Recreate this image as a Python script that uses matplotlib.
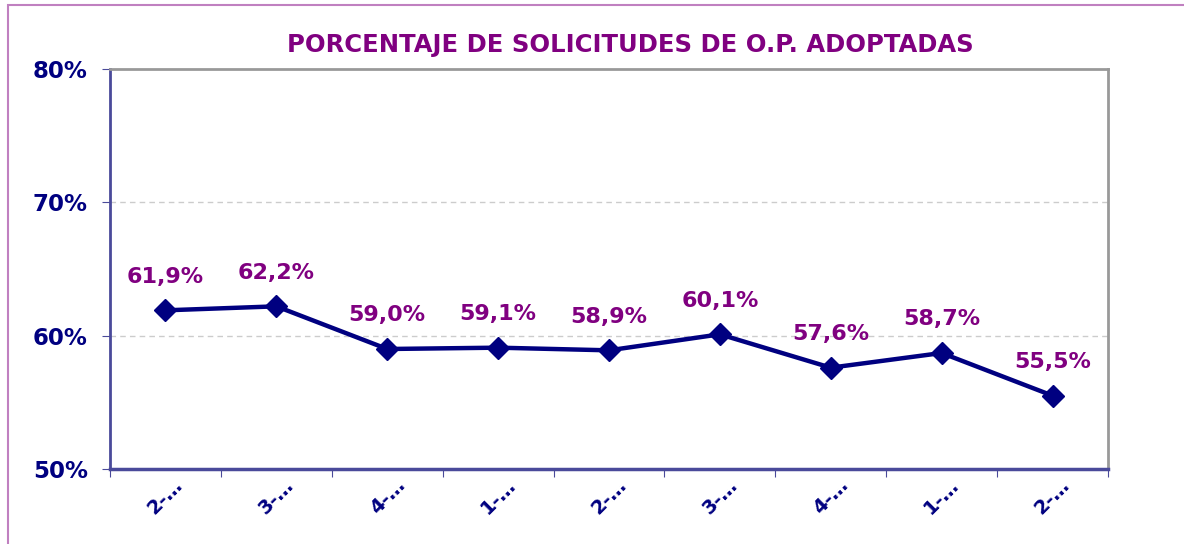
import matplotlib
matplotlib.use("Agg")
import matplotlib.pyplot as plt
from matplotlib.patches import Rectangle

categories = ["2-…", "3-…", "4-…", "1-…", "2-…", "3-…", "4-…", "1-…", "2-…"]
values = [61.9, 62.2, 59.0, 59.1, 58.9, 60.1, 57.6, 58.7, 55.5]
yticks = [50, 60, 70, 80]
title = "PORCENTAJE DE SOLICITUDES DE O.P. ADOPTADAS"

navy = "#000080"
purple = "#800080"

fig = plt.figure(figsize=(11.84, 5.44), dpi=100)
fig.patches.append(Rectangle((8/1184, -0.1), 1.2, 1.1 - 5/544, transform=fig.transFigure,
                             fill=False, edgecolor="#c080c0", linewidth=1.5))
ax = fig.add_axes([110/1184, 1-469/544, 998/1184, 400/544])

x = list(range(len(values)))
ax.plot(x, values, color=navy, linewidth=3.2, marker="D", markersize=11, zorder=3)
for xi, v in zip(x, values):
    ax.annotate(f"{v:.1f}%".replace(".", ","), (xi, v), xytext=(0, 17), textcoords="offset points",
                ha="center", va="bottom", color=purple, fontsize=16, fontweight="bold")

ax.set_xlim(-0.5, len(values) - 0.5)
ax.set_ylim(50, 80)
ax.set_yticks(yticks)
ax.set_yticklabels([f"{t}%" for t in yticks], fontsize=16.5, fontweight="bold", color=navy)
ax.set_xticks([i - 0.5 for i in range(len(values) + 1)], minor=False)
ax.set_xticklabels([])
ax.set_xticks(x, minor=True)
ax.set_xticklabels(categories, minor=True, rotation=45, ha="center", va="center",
                   fontsize=14, fontweight="bold", color=navy, rotation_mode="anchor")
ax.tick_params(axis="x", which="minor", length=0, pad=20)
ax.tick_params(axis="x", which="major", length=6, color="#4a4a9a", direction="out")
ax.tick_params(axis="y", length=6, color="#4a4a9a", direction="out", pad=10)

for yv in [60, 70]:
    ax.axhline(yv, color="#cccccc", linestyle=(0, (4, 3)), linewidth=1, zorder=1)

ax.spines["left"].set_color("#4a4a9a")
ax.spines["bottom"].set_color("#4a4a9a")
ax.spines["left"].set_linewidth(2)
ax.spines["bottom"].set_linewidth(2.5)
ax.spines["top"].set_color("#999999")
ax.spines["right"].set_color("#999999")
ax.spines["top"].set_linewidth(2)
ax.spines["right"].set_linewidth(2)

fig.text(630/1184, 1-45/544, title, ha="center", va="center", color=purple,
         fontsize=17.5, fontweight="bold")

fig.savefig("out.png", dpi=100)
